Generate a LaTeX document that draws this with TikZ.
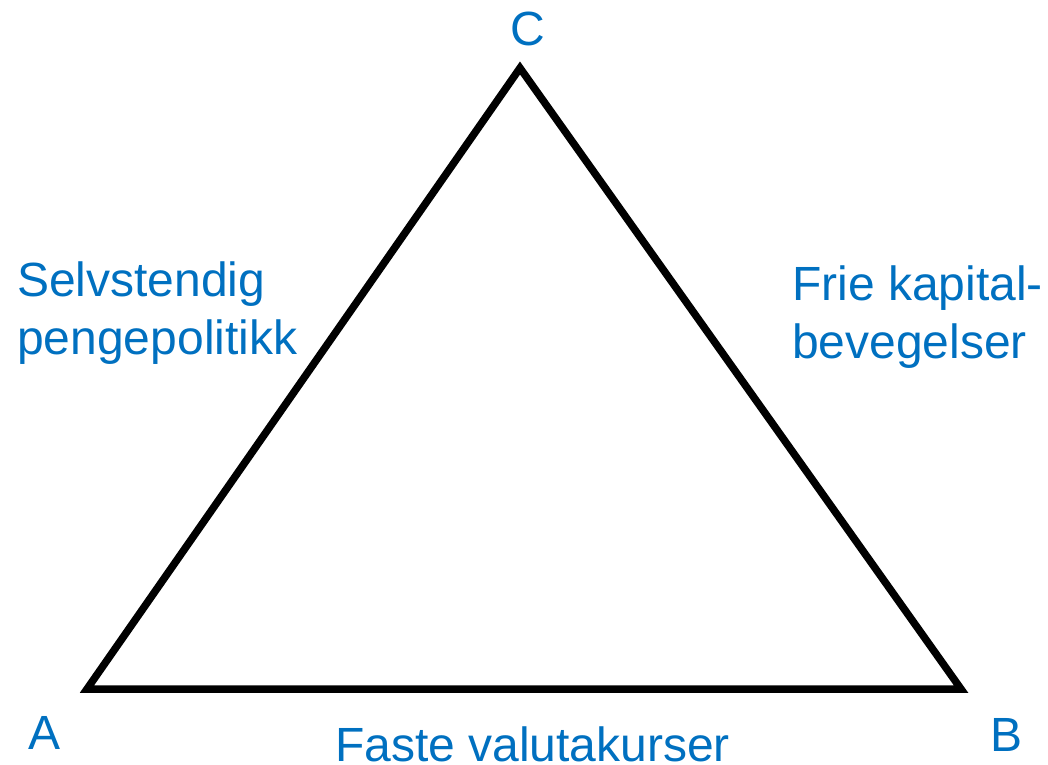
\documentclass[tikz,border=0pt]{standalone}
\usepackage{fontspec}
\setmainfont{Liberation Sans}
\definecolor{labelblue}{HTML}{0070C0}
\begin{document}
\begin{tikzpicture}[x=1pt,y=-1pt,
  lbl/.style={text=labelblue,inner sep=0pt,anchor=base west,
    font=\fontsize{48}{58}\selectfont,align=left},
  edge/.style={line width=7.5pt,line join=miter,black}]
\useasboundingbox (0,0) rectangle (1048,764);
% corners of the triangle
\coordinate (A) at (87,689);
\coordinate (B) at (961,689);
\coordinate (C) at (520,68);
\draw[edge] (A) -- (B) -- (C) -- cycle;
% corner letters
\node[lbl] (la) at (28,749) {A};
\node[lbl] (lb) at (990,751) {B};
\node[lbl] (lc) at (510,45) {C};
% side labels
\node[lbl,anchor=north west] (left) at (17,262) {Selvstendig\\pengepolitikk};
\node[lbl,anchor=north west] (right) at (792,266) {Frie kapital-\\bevegelser};
\node[lbl] (bottom) at (335,761) {Faste valutakurser};
\end{tikzpicture}
\end{document}
